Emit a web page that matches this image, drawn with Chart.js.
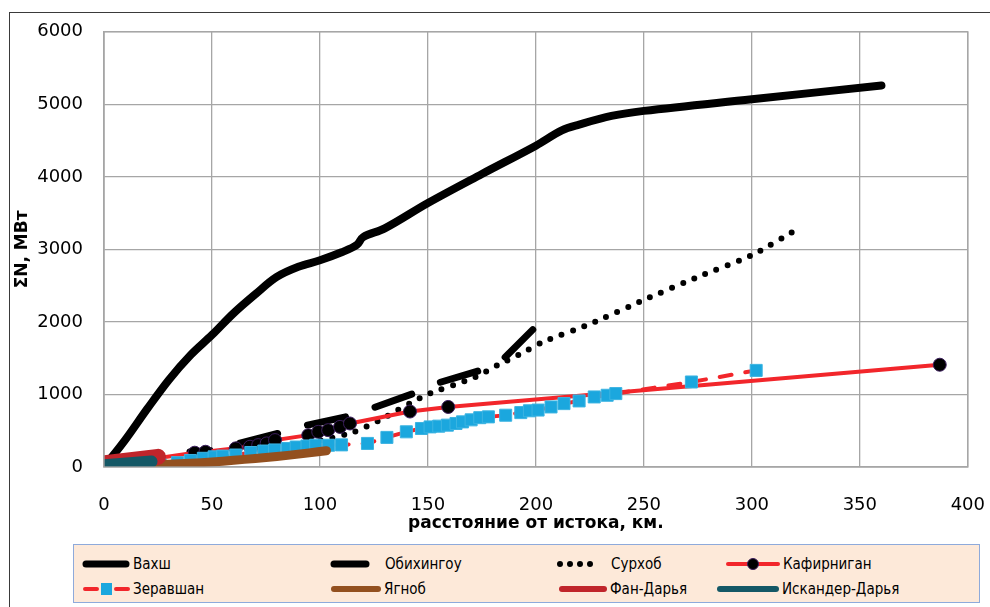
<!DOCTYPE html>
<html>
<head>
<meta charset="utf-8">
<script src="https://cdn.jsdelivr.net/npm/chart.js@4.4.0/dist/chart.umd.min.js"></script>
<style>
  html, body { margin: 0; padding: 0; background: #fff; overflow: hidden; }
  #frame { position: absolute; left: 9px; top: 12px; width: 1000px; height: 620px; border: 1.5px solid #3a3a3a; }
  #wrap { position: absolute; left: 0; top: 0; width: 990px; height: 545px; overflow: hidden; }
  #legend { position: absolute; left: 73px; top: 544px; width: 905px; height: 57px;
            background: #fde9d9; border: 1px solid #8eaadb;
            font-family: 'DejaVu Sans Condensed', 'DejaVu Sans', sans-serif; font-size: 15px; color: #000; }
  .item { position: absolute; height: 22px; display: flex; align-items: center; white-space: nowrap; }
  .item svg { margin-right: 3px; }
</style>
</head>
<body>
<div id="frame"></div>
<div id="wrap"><canvas id="chart" width="1013" height="545"></canvas></div>
<div id="legend"></div>
<script>
// axis ranges
const xMax = 400, xStep = 50;
const yMax = 6000, yStep = 1000;

// Вахш
const vakhshX = [0, 10, 20, 30, 40, 50, 60, 70, 80, 90, 100, 110, 117, 120, 130, 150, 175, 200, 212, 220, 235, 250, 300, 360];
const vakhshY = [0, 380, 800, 1200, 1540, 1820, 2120, 2380, 2620, 2760, 2850, 2960, 3060, 3170, 3290, 3640, 4040, 4430, 4640, 4720, 4840, 4910, 5070, 5260];

// Обихингоу
const obikhX = [39.8, 52.3, 63, 82.9, 94, 115.3, 125.5, 144.9, 155.6, 177.3, 185.6, 199.5];
const obikhY = [206, 233, 330, 481, 577, 714, 824, 1030, 1167, 1359, 1510, 1922];

// Сурхоб
const surkhX = [40, 65, 98, 116, 127, 149, 172, 182, 193, 203, 225, 251, 275, 301, 321];
const surkhY = [100, 165, 348, 485, 636, 990, 1240, 1400, 1560, 1720, 1970, 2316, 2620, 2934, 3280];

// Кафирниган
const kafX = [0, 42, 47, 61, 67.6, 71.4, 75.3, 79.2, 94.6, 99.2, 103.8, 109.3, 113.9, 141.7, 159.4, 387];
const kafY = [15, 197, 210, 257, 279, 302, 325, 371, 439, 485, 508, 553, 600, 765, 828, 1410];

// Зеравшан
const zerX = [0, 17, 26, 34, 40, 46, 51, 55, 61, 68, 74, 79, 85, 89, 94, 98, 104, 110, 122, 131, 140, 147, 151, 155, 159, 163, 166, 170, 174, 178, 186, 193, 197, 201, 207, 213, 220, 227, 233, 237, 272, 302];
const zerY = [0, 15, 30, 60, 90, 120, 140, 150, 165, 200, 220, 235, 255, 275, 290, 300, 300, 305, 325, 408, 485, 531, 553, 563, 577, 600, 622, 650, 680, 691, 714, 750, 775, 785, 828, 874, 911, 966, 989, 1012, 1172, 1332];

// Ягноб
const yagX = [24, 35, 45, 55, 65, 75, 85, 95, 103];
const yagY = [30, 45, 60, 80, 105, 130, 160, 195, 225];

// Фан-Дарья
const fanX = [0, 25];
const fanY = [50, 140];

// Искандер-Дарья
const iskX = [0, 22];
const iskY = [25, 75];

function pts(xs, ys) {
  return xs.map((x, i) => ({x: x, y: ys[i]}));
}

const tickFont = {family: 'DejaVu Sans', size: 18};
const titleFont = {family: 'DejaVu Sans', size: 17, weight: 'bold'};

new Chart(document.getElementById('chart'), {
  type: 'scatter',
  data: {
    datasets: [
      {label: 'Вахш', data: pts(vakhshX, vakhshY), showLine: true, borderColor: '#000', borderWidth: 8,
       borderCapStyle: 'round', tension: 0.35, pointRadius: 0, order: 8},
      {label: 'Обихингоу', data: pts(obikhX, obikhY), showLine: true, borderColor: '#000', borderWidth: 7,
       borderCapStyle: 'round', borderDash: [39, 31], borderDashOffset: 19, pointRadius: 0, order: 7},
      {label: 'Сурхоб', data: pts(surkhX, surkhY), showLine: true, borderColor: '#000', borderWidth: 6,
       borderCapStyle: 'round', borderDash: [0, 12], tension: 0.2, pointRadius: 0, order: 6},
      {label: 'Кафирниган', data: pts(kafX, kafY), showLine: true, borderColor: '#f2262b', borderWidth: 4,
       pointRadius: 6.5, pointBackgroundColor: '#000', pointBorderColor: '#3b1d5c', pointBorderWidth: 1, order: 5},
      {label: 'Зеравшан', data: pts(zerX, zerY), showLine: true, borderColor: '#f2262b', borderWidth: 4,
       borderCapStyle: 'round', borderDash: [12, 14], pointStyle: 'rect', pointRadius: 8.5,
       pointBackgroundColor: '#1ba7de', pointBorderColor: '#3cb4e2', pointBorderWidth: 1, order: 4},
      {label: 'Ягноб', data: pts(yagX, yagY), showLine: true, borderColor: '#93501f', borderWidth: 9,
       borderCapStyle: 'round', tension: 0.3, pointRadius: 0, order: 3},
      {label: 'Фан-Дарья', data: pts(fanX, fanY), showLine: true, borderColor: '#c0252b', borderWidth: 16,
       borderCapStyle: 'round', pointRadius: 0, order: 2},
      {label: 'Искандер-Дарья', data: pts(iskX, iskY), showLine: true, borderColor: '#145866', borderWidth: 12,
       borderCapStyle: 'round', pointRadius: 0, order: 1}
    ]
  },
  options: {
    responsive: false,
    animation: false,
    layout: {padding: {top: 30, right: 0, left: 0, bottom: 0}},
    plugins: {legend: {display: false}, tooltip: {enabled: false}},
    scales: {
      x: {
        type: 'linear', min: 0, max: xMax,
        ticks: {stepSize: xStep, padding: 28, font: tickFont, color: '#000', callback: v => String(v)},
        grid: {color: '#a6a6a6', lineWidth: 1.3, drawTicks: false},
        border: {color: '#a6a6a6', width: 1.3},
        title: {display: true, text: 'расстояние от истока, км.', font: titleFont, color: '#000', padding: {top: 0, bottom: 11}},
        afterFit: function(s) { s.height = 78; }
      },
      y: {
        min: 0, max: yMax,
        ticks: {stepSize: yStep, padding: 21, font: tickFont, color: '#000', callback: v => String(v)},
        grid: {color: '#a6a6a6', lineWidth: 1.3, drawTicks: false},
        border: {color: '#a6a6a6', width: 1.3},
        title: {display: true, text: 'ΣN, МВт', font: titleFont, color: '#000', padding: {top: 12, bottom: 0}},
        afterFit: function(s) { s.width = 104; }
      }
    }
  },
  plugins: [{
    id: 'frameRight',
    afterDraw(chart) {
      const a = chart.chartArea, c = chart.ctx;
      c.save();
      c.strokeStyle = '#a6a6a6';
      c.lineWidth = 1.3;
      c.strokeRect(a.left, a.top, a.right - a.left, a.bottom - a.top);
      c.restore();
    }
  }]
});

// legend built from the series names
const legendItems = [
  {name: 'Вахш', left: 8, top: 8, sym: '<line x1="4" y1="11" x2="44" y2="11" stroke="#000" stroke-width="7" stroke-linecap="round"/>', w: 48},
  {name: 'Обихингоу', left: 252, top: 8, sym: '<line x1="8" y1="11" x2="40" y2="11" stroke="#000" stroke-width="7" stroke-linecap="round"/>', w: 56},
  {name: 'Сурхоб', left: 482, top: 8, sym: '<line x1="4" y1="11" x2="44" y2="11" stroke="#000" stroke-width="6" stroke-linecap="round" stroke-dasharray="0 10"/>', w: 52},
  {name: 'Кафирниган', left: 652, top: 8, sym: '<line x1="2" y1="11" x2="52" y2="11" stroke="#f2262b" stroke-width="4" stroke-linecap="round"/><circle cx="27" cy="11" r="5.5" fill="#000" stroke="#3b1d5c"/>', w: 54},
  {name: 'Зеравшан', left: 8, top: 33, sym: '<line x1="3" y1="11" x2="46" y2="11" stroke="#f2262b" stroke-width="4" stroke-linecap="round" stroke-dasharray="12 19"/><rect x="19" y="5" width="11" height="12" fill="#1ba7de"/>', w: 48},
  {name: 'Ягноб', left: 257, top: 33, sym: '<line x1="3" y1="11" x2="47" y2="11" stroke="#93501f" stroke-width="6" stroke-linecap="round"/>', w: 50},
  {name: 'Фан-Дарья', left: 485, top: 33, sym: '<line x1="3" y1="11" x2="45" y2="11" stroke="#c0252b" stroke-width="6" stroke-linecap="round"/>', w: 48},
  {name: 'Искандер-Дарья', left: 643, top: 33, sym: '<line x1="3" y1="11" x2="59" y2="11" stroke="#145866" stroke-width="6" stroke-linecap="round"/>', w: 62}
];
const legend = document.getElementById('legend');
legendItems.forEach(it => {
  const d = document.createElement('div');
  d.className = 'item';
  d.style.left = it.left + 'px';
  d.style.top = it.top + 'px';
  d.innerHTML = '<svg width="' + it.w + '" height="22">' + it.sym + '</svg><span>' + it.name + '</span>';
  legend.appendChild(d);
});
</script>
</body>
</html>
